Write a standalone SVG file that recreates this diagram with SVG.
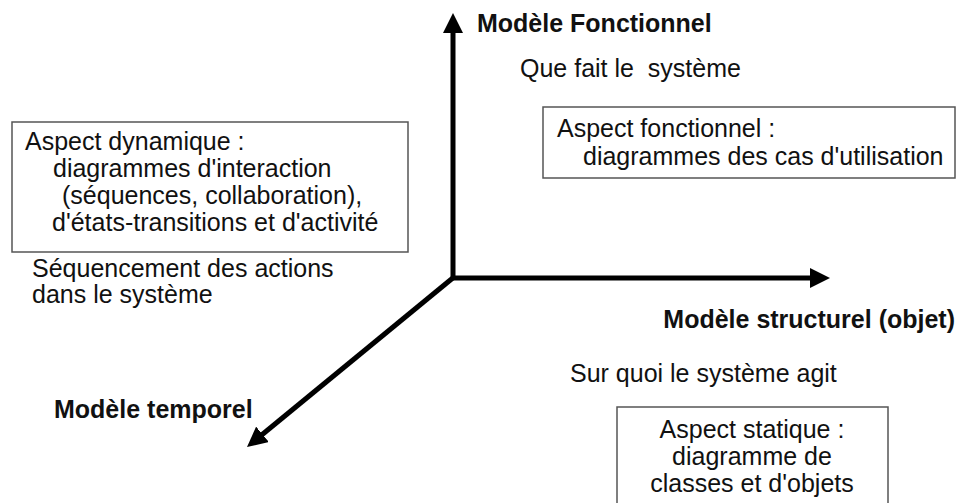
<svg xmlns="http://www.w3.org/2000/svg" width="958" height="503" viewBox="0 0 958 503">
<style>
text{font-family:"Liberation Sans",Arial,sans-serif;font-size:25px;fill:#111}
.b{font-weight:bold}
.box{fill:#fff;stroke:#555;stroke-width:1.5}
.axis{stroke:#000;stroke-width:5;fill:none}
</style>
<defs>
<marker id="ah" markerUnits="userSpaceOnUse" markerWidth="20" markerHeight="20" refX="5" refY="10" orient="auto" viewBox="0 0 20 20">
<path d="M0,0 L20,10 L0,20 z" fill="#000"/>
</marker>
</defs>
<rect width="958" height="503" fill="#fff"/>
<g id="connectors">
<line class="axis" x1="453" y1="280" x2="453" y2="28" marker-end="url(#ah)"/>
<line class="axis" x1="451" y1="278" x2="815" y2="278" marker-end="url(#ah)"/>
<line class="axis" x1="454" y1="277" x2="258.6" y2="437.5" marker-end="url(#ah)"/>
</g>
<g id="modele-fonctionnel">
<text class="b" x="477" y="32">Modèle Fonctionnel</text>
<text x="520" y="77" xml:space="preserve">Que fait le  système</text>
</g>
<g id="aspect-fonctionnel">
<rect class="box" x="543" y="107" width="412" height="71"/>
<text x="557" y="137">Aspect fonctionnel :</text>
<text x="583" y="165">diagrammes des cas d'utilisation</text>
</g>
<g id="aspect-dynamique">
<rect class="box" x="12" y="122" width="396" height="130"/>
<text x="25" y="150">Aspect dynamique :</text>
<text x="53" y="177">diagrammes d'interaction</text>
<text x="62" y="204">(séquences, collaboration),</text>
<text x="52" y="231">d'états-transitions et d'activité</text>
</g>
<g id="sequencement">
<text x="32" y="277">Séquencement des actions</text>
<text x="32" y="303">dans le système</text>
</g>
<g id="modele-structurel">
<text class="b" x="955" y="328" text-anchor="end">Modèle structurel (objet)</text>
<text x="570" y="382">Sur quoi le système agit</text>
</g>
<g id="aspect-statique">
<rect class="box" x="617" y="407" width="271" height="110"/>
<text x="752" y="438" text-anchor="middle">Aspect statique :</text>
<text x="752" y="465" text-anchor="middle">diagramme de</text>
<text x="752" y="492" text-anchor="middle">classes et d'objets</text>
</g>
<g id="modele-temporel">
<text class="b" x="54" y="418">Modèle temporel</text>
</g>
</svg>
